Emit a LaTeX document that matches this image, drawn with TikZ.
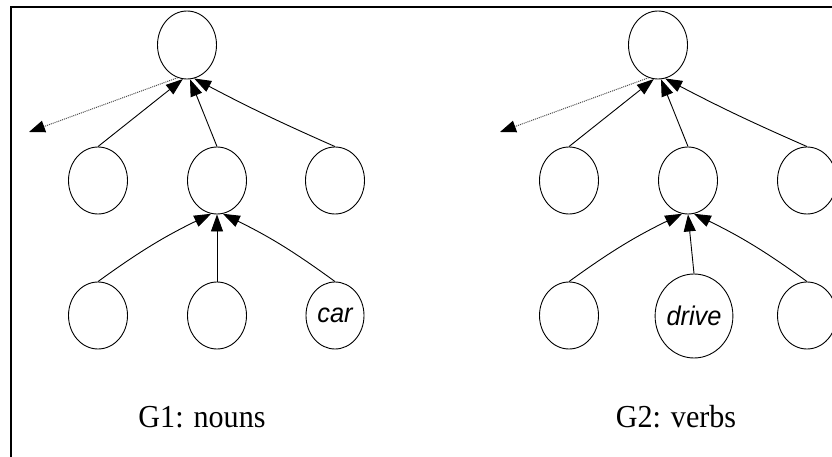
\documentclass[tikz,border=0pt]{standalone}
\usepackage{fontspec}
\setmainfont{Liberation Serif}
\newfontfamily\arialf{Liberation Sans}
\usetikzlibrary{shapes.geometric,arrows.meta}
\newcommand{\sq}[1]{\scalebox{0.94}[1]{#1}}
\begin{document}
\begin{tikzpicture}[x=1pt,y=-1pt,
  nd/.style={ellipse,draw,line width=0.9pt,inner sep=0pt,minimum width=59pt,minimum height=67pt,font=\arialf\itshape\fontsize{27}{29}\selectfont},
  ed/.style={line width=0.9pt,-{Triangle[length=17pt,width=12pt]}},
  dt/.style={line width=1pt,draw=black!70,dash pattern=on 1pt off 1pt,-{Triangle[length=16pt,width=12pt,color=black,fill=black]}},
  lab/.style={anchor=base,font=\fontsize{32}{33}\selectfont,inner sep=0pt}]
\useasboundingbox (0,0) rectangle (832,457);
\draw[line width=2.3pt] (11,457) -- (11,7) -- (832,7);
% left tree
\node[nd,minimum height=68pt] (r1) at (187,45) {};
\node[nd] (a1) at (98,180.5) {};
\node[nd] (b1) at (217,180.5) {};
\node[nd] (c1) at (335,180.5) {};
\node[nd] (d1) at (98,315.5) {};
\node[nd] (e1) at (217,315.5) {};
\node[nd,minimum width=58pt] (f1) at (335,315.5) {\sq{car}};
\coordinate (p1) at (29,132);
\draw[ed] (a1.north) -- (r1.-97);
\draw[ed] (b1.north) -- (r1.-85);
\draw[ed] (c1.north) to[bend left=2] (r1.-78);
\draw[ed] (d1.north) to[bend left=5] (b1.-100);
\draw[ed] (e1.north) -- (b1.south);
\draw[ed] (f1.north) to[bend right=5] (b1.-80);
\draw[dt] (r1.-106) -- (p1);
\node[lab] (g1) at (202,427) {\sq{G1: nouns}};
% right tree
\node[nd,minimum height=68pt] (r2) at (658,45) {};
\node[nd] (a2) at (569,180.5) {};
\node[nd] (b2) at (688,180.5) {};
\node[nd] (c2) at (807,180.5) {};
\node[nd] (d2) at (569,315.5) {};
\node[nd,minimum width=74pt,minimum height=84pt] (e2) at (694,316) {\sq{drive}};
\node[nd] (f2) at (807,315.5) {};
\coordinate (p2) at (500,132);
\draw[ed] (a2.north) -- (r2.-97);
\draw[ed] (b2.north) -- (r2.-85);
\draw[ed] (c2.north) to[bend left=2] (r2.-78);
\draw[ed] (d2.north) to[bend left=5] (b2.-100);
\draw[ed] (e2.north) -- (b2.south);
\draw[ed] (f2.north) to[bend right=5] (b2.-80);
\draw[dt] (r2.-106) -- (p2);
\node[lab] (g2) at (676,427) {\sq{G2: verbs}};
\end{tikzpicture}
\end{document}
